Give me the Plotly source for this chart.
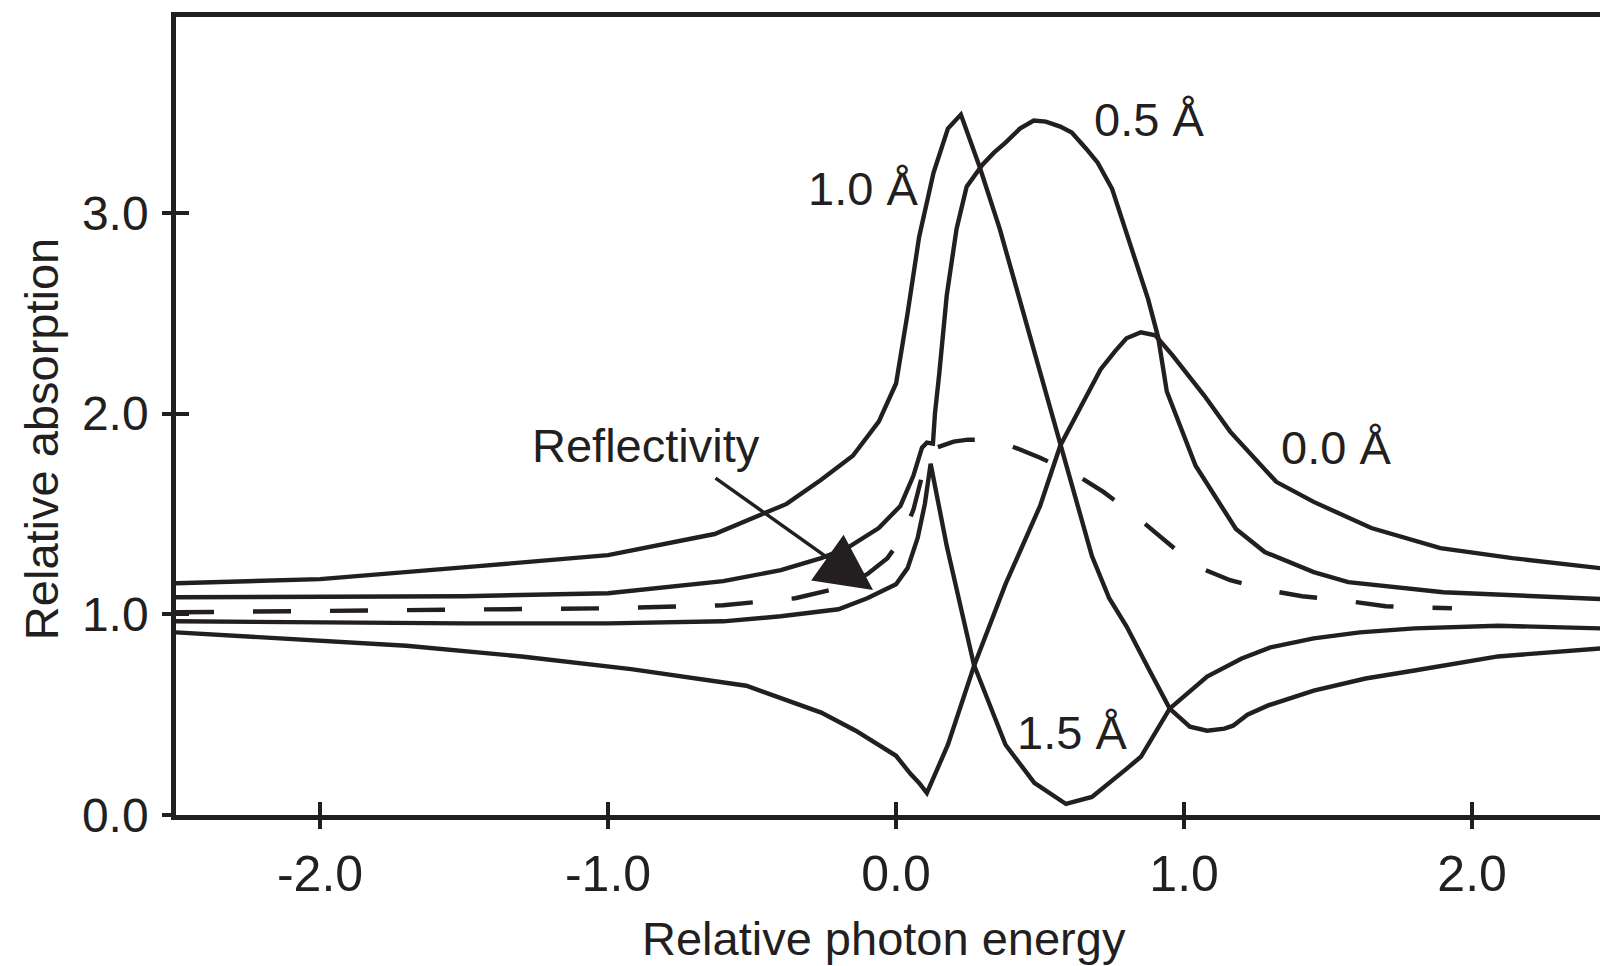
import plotly.graph_objects as go

# ---------------- data ----------------
x_10 = [-2.5, -2.0, -1.45, -1.0, -0.63, -0.38, -0.26, -0.15, -0.06, 0.0, 0.04, 0.08, 0.13, 0.18, 0.225,
        0.29, 0.36, 0.45, 0.55, 0.62, 0.68, 0.74, 0.80, 0.88, 0.95, 1.02, 1.08, 1.14, 1.17, 1.22, 1.29,
        1.45, 1.63, 1.8, 1.96, 2.09, 2.445]
y_10 = [1.155, 1.175, 1.24, 1.295, 1.40, 1.55, 1.67, 1.79, 1.96, 2.15, 2.5, 2.88, 3.2, 3.42, 3.49,
        3.23, 2.92, 2.46, 1.94, 1.60, 1.29, 1.08, 0.94, 0.72, 0.53, 0.44, 0.42, 0.43, 0.445, 0.50, 0.545,
        0.62, 0.68, 0.72, 0.76, 0.79, 0.83]

x_05 = [-2.5, -2.0, -1.5, -1.0, -0.6, -0.4, -0.26, -0.17, -0.06, 0.015, 0.06, 0.09, 0.107, 0.128,
        0.135, 0.15, 0.176, 0.21, 0.245, 0.30, 0.34, 0.38, 0.43, 0.478, 0.52, 0.57, 0.61, 0.66, 0.70,
        0.75, 0.82, 0.875, 0.91, 0.94, 1.04, 1.18, 1.28, 1.45, 1.57, 1.9, 2.445]
y_05 = [1.085, 1.087, 1.09, 1.105, 1.165, 1.22, 1.28, 1.33, 1.43, 1.54, 1.69, 1.83, 1.855, 1.85,
        2.0, 2.2, 2.59, 2.92, 3.13, 3.24, 3.30, 3.35, 3.42, 3.46, 3.455, 3.43, 3.40, 3.32, 3.25,
        3.12, 2.82, 2.57, 2.38, 2.11, 1.74, 1.425, 1.31, 1.21, 1.16, 1.11, 1.076]

x_00 = [-2.5, -2.0, -1.7, -1.3, -0.92, -0.52, -0.26, -0.14, 0.0, 0.05, 0.08, 0.107, 0.18, 0.27, 0.38,
        0.5, 0.57, 0.64, 0.71, 0.76, 0.80, 0.85, 0.90, 0.96, 1.07, 1.16, 1.32, 1.45, 1.65, 1.89, 2.14, 2.445]
y_00 = [0.91, 0.865, 0.843, 0.79, 0.727, 0.644, 0.51, 0.42, 0.295, 0.205, 0.16, 0.11, 0.35, 0.74, 1.15,
        1.54, 1.84, 2.03, 2.22, 2.31, 2.375, 2.405, 2.39, 2.29, 2.09, 1.91, 1.66, 1.56, 1.43, 1.33, 1.28, 1.23]

x_15 = [-2.5, -2.0, -1.5, -1.0, -0.6, -0.4, -0.2, -0.1, 0.0, 0.04, 0.075, 0.1, 0.12, 0.176, 0.27,
        0.38, 0.48, 0.59, 0.68, 0.8, 0.85, 0.95, 1.08, 1.2, 1.3, 1.45, 1.61, 1.8, 2.09, 2.445]
y_15 = [0.965, 0.958, 0.955, 0.955, 0.965, 0.99, 1.025, 1.08, 1.15, 1.23, 1.38, 1.55, 1.75, 1.34, 0.75,
        0.35, 0.16, 0.055, 0.09, 0.23, 0.29, 0.53, 0.69, 0.78, 0.835, 0.88, 0.91, 0.93, 0.943, 0.93]

x_refl = [-2.5, -2.0, -1.5, -1.0, -0.6, -0.35, -0.2, -0.1, -0.03, 0.02, 0.06, 0.09, 0.11, 0.14, 0.2,
          0.25, 0.3, 0.38, 0.5, 0.62, 0.72, 0.84, 0.93, 1.04, 1.16, 1.29, 1.41, 1.55, 1.7, 1.93]
y_refl = [1.01, 1.015, 1.02, 1.03, 1.045, 1.08, 1.13, 1.2, 1.28, 1.38, 1.52, 1.68, 1.8, 1.83, 1.86,
          1.87, 1.87, 1.85, 1.78, 1.70, 1.61, 1.48, 1.37, 1.24, 1.17, 1.12, 1.09, 1.07, 1.04, 1.03]

x_ticks = [-2.0, -1.0, 0.0, 1.0, 2.0]
x_ticktext = ["-2.0", "-1.0", "0.0", "1.0", "2.0"]
y_ticks = [0.0, 1.0, 2.0, 3.0]
y_ticktext = ["0.0", "1.0", "2.0", "3.0"]

labels = ["1.0 Å", "0.5 Å", "0.0 Å", "1.5 Å"]
label_x = [-0.116, 0.878, 1.528, 0.612]
label_y = [3.12, 3.463, 1.83, 0.413]

# ---------------- style ----------------
INK = "#231f20"
FONT = "Liberation Sans, Arial, Helvetica, sans-serif"
LW = 4.4
X_RANGE = [-2.5, 2.444]
Y_RANGE = [0.0, 3.976]

fig = go.Figure()
for xs, ys in [(x_10, y_10), (x_05, y_05), (x_00, y_00), (x_15, y_15)]:
    fig.add_trace(go.Scatter(x=xs, y=ys, mode="lines", line=dict(color=INK, width=LW),
                             showlegend=False, hoverinfo="skip"))
fig.add_trace(go.Scatter(x=x_refl, y=y_refl, mode="lines",
                         line=dict(color=INK, width=LW, dash="38px,39px"),
                         showlegend=False, hoverinfo="skip"))
# carrier for the inner tick axes
fig.add_trace(go.Scatter(x=[None], y=[None], xaxis="x2", yaxis="y2", mode="lines",
                         showlegend=False, hoverinfo="skip"))

for t, lx, ly in zip(labels, label_x, label_y):
    fig.add_annotation(x=lx, y=ly, xref="x", yref="y", text=t, showarrow=False,
                       font=dict(family=FONT, size=47, color=INK), xanchor="center", yanchor="middle")

fig.add_annotation(x=-0.868, y=1.839, xref="x", yref="y", text="Reflectivity", showarrow=False,
                   font=dict(family=FONT, size=47, color=INK), xanchor="center", yanchor="middle")
fig.add_annotation(x=-0.08, y=1.121, xref="x", yref="y", ax=-0.632, ay=1.684, axref="x", ayref="y",
                   text="", showarrow=True, arrowhead=2, arrowsize=3.2, arrowwidth=3.5,
                   arrowcolor=INK, standoff=0)

# axis titles
fig.add_annotation(x=-0.0948, y=0.471, xref="paper", yref="paper", text="Relative absorption",
                   textangle=-90, showarrow=False, font=dict(family=FONT, size=47, color=INK),
                   xanchor="center", yanchor="middle")
fig.add_annotation(x=0.497, y=-0.1548, xref="paper", yref="paper", text="Relative photon energy",
                   showarrow=False, font=dict(family=FONT, size=47, color=INK),
                   xanchor="center", yanchor="middle")

axis_common = dict(showgrid=False, zeroline=False, tickcolor=INK, tickwidth=4)
fig.update_layout(
    width=1600, height=966, autosize=False,
    margin=dict(l=176, r=0, t=17, b=151),
    paper_bgcolor="white", plot_bgcolor="white",
    font=dict(family=FONT, color=INK),
    xaxis=dict(range=X_RANGE, showline=True, linecolor=INK, linewidth=4.5, mirror=True,
               ticks="outside", ticklen=9, tickvals=x_ticks, ticktext=x_ticktext,
               tickfont=dict(family=FONT, size=50, color=INK), ticklabelstandoff=2, **axis_common),
    yaxis=dict(range=Y_RANGE, showline=True, linecolor=INK, linewidth=4.5, mirror=False,
               ticks="outside", ticklen=9, tickvals=y_ticks, ticktext=y_ticktext,
               tickfont=dict(family=FONT, size=48, color=INK), ticklabelstandoff=4, **axis_common),
    xaxis2=dict(range=X_RANGE, overlaying="x", anchor="y", side="bottom", showline=False,
                ticks="inside", ticklen=13, tickvals=x_ticks, showticklabels=False, **axis_common),
    yaxis2=dict(range=Y_RANGE, overlaying="y", anchor="x", side="left", showline=False,
                ticks="inside", ticklen=13, tickvals=y_ticks, showticklabels=False, **axis_common),
)

fig.write_html("out.html", config={"displayModeBar": False},
               post_script="document.body.style.margin='0px';document.body.style.overflow='hidden';")
